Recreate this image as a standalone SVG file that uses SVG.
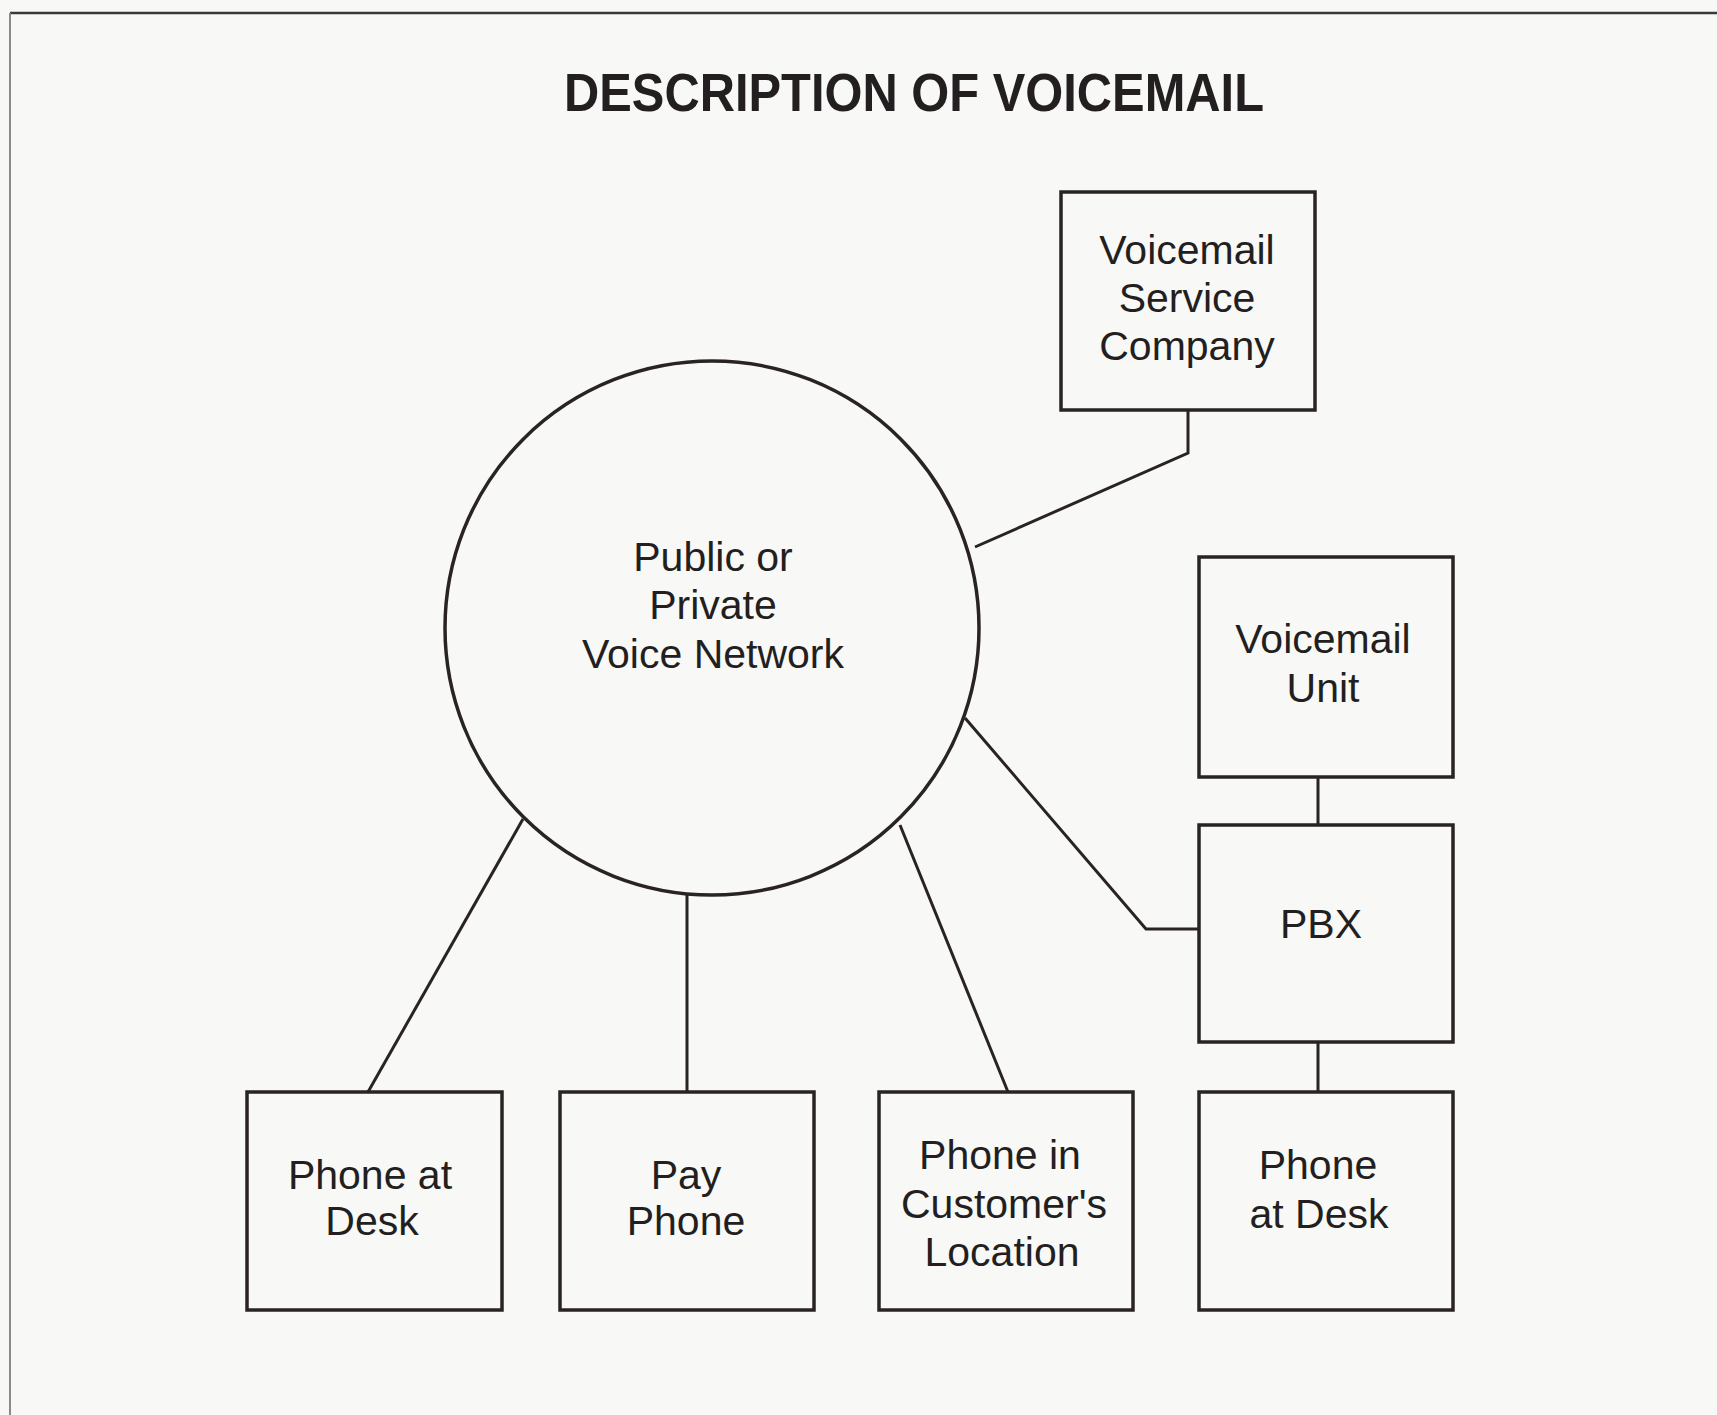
<svg xmlns="http://www.w3.org/2000/svg" width="1717" height="1415" viewBox="0 0 1717 1415">
<style>
  .bg { fill: #f8f8f6; }
  .box { fill: none; stroke: #2a2325; stroke-width: 3.5; }
  .ln { fill: none; stroke: #2a2325; stroke-width: 3; }
  .t { font-family: "Liberation Sans", Arial, sans-serif; font-size: 41px; fill: #231f20; text-anchor: middle; }
  .title { font-family: "Liberation Sans", Arial, sans-serif; font-size: 54px; font-weight: bold; fill: #231f20; text-anchor: middle; }
</style>
<rect class="bg" x="0" y="0" width="1717" height="1415"/>
<g id="frame">
  <line x1="10" y1="13" x2="1717" y2="13" stroke="#3a3a3a" stroke-width="2.5"/>
  <line x1="10" y1="13" x2="10" y2="1415" stroke="#8a8a8a" stroke-width="2"/>
</g>
<text class="title" x="914" y="111" textLength="700" lengthAdjust="spacingAndGlyphs">DESCRIPTION OF VOICEMAIL</text>
<g id="connectors">
  <polyline class="ln" points="1188,410 1188,453 975,547"/>
  <polyline class="ln" points="965,718 1146,929 1199,929"/>
  <line class="ln" x1="1318" y1="777" x2="1318" y2="825"/>
  <line class="ln" x1="1318" y1="1042" x2="1318" y2="1092"/>
  <line class="ln" x1="523" y1="819" x2="368" y2="1092"/>
  <line class="ln" x1="687" y1="893" x2="687" y2="1092"/>
  <line class="ln" x1="900" y1="825" x2="1008" y2="1092"/>
</g>
<g id="network">
  <circle class="box" cx="712" cy="628" r="267"/>
  <text class="t" x="713" y="571">Public or</text>
  <text class="t" x="713" y="619">Private</text>
  <text class="t" x="713" y="668">Voice Network</text>
</g>
<g id="vsc">
  <rect class="box" x="1061" y="192" width="254" height="218"/>
  <text class="t" x="1187" y="264">Voicemail</text>
  <text class="t" x="1187" y="312">Service</text>
  <text class="t" x="1187" y="360">Company</text>
</g>
<g id="vmu">
  <rect class="box" x="1199" y="557" width="254" height="220"/>
  <text class="t" x="1323" y="653">Voicemail</text>
  <text class="t" x="1323" y="702">Unit</text>
</g>
<g id="pbx">
  <rect class="box" x="1199" y="825" width="254" height="217"/>
  <text class="t" x="1321" y="938">PBX</text>
</g>
<g id="phone1">
  <rect class="box" x="247" y="1092" width="255" height="218"/>
  <text class="t" x="370" y="1189">Phone at</text>
  <text class="t" x="372" y="1235">Desk</text>
</g>
<g id="payphone">
  <rect class="box" x="560" y="1092" width="254" height="218"/>
  <text class="t" x="686" y="1189">Pay</text>
  <text class="t" x="686" y="1235">Phone</text>
</g>
<g id="customer">
  <rect class="box" x="879" y="1092" width="254" height="218"/>
  <text class="t" x="1000" y="1169">Phone in</text>
  <text class="t" x="1004" y="1218">Customer's</text>
  <text class="t" x="1002" y="1266">Location</text>
</g>
<g id="phone2">
  <rect class="box" x="1199" y="1092" width="254" height="218"/>
  <text class="t" x="1318" y="1179">Phone</text>
  <text class="t" x="1319" y="1228">at Desk</text>
</g>
</svg>
